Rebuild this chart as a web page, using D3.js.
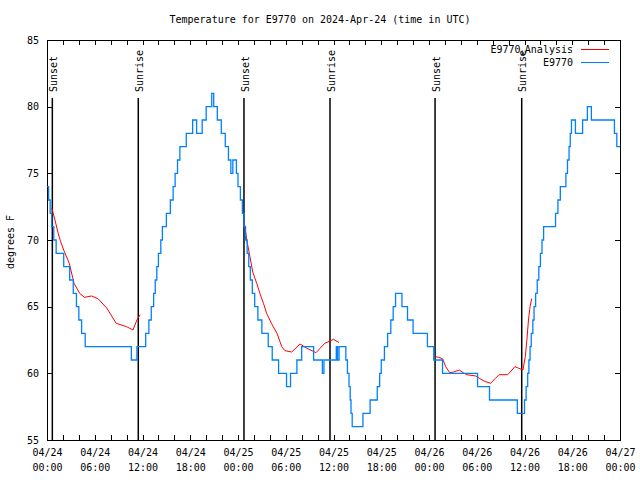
<!DOCTYPE html>
<html><head><meta charset="utf-8">
<script src="https://cdn.jsdelivr.net/npm/d3@7"></script>
<style>
body{margin:0;background:#fff}
text{font-family:"DejaVu Sans Mono",monospace;font-size:10px;fill:#000}
</style>
</head><body>
<svg id="c" width="640" height="480"></svg>
<script>
// ---- data (hours after 2024-04-24 00:00 UTC) ----
const titleText = "Temperature for E9770 on 2024-Apr-24 (time in UTC)";
const yLabel = "degrees F";
const yTicks = [55, 60, 65, 70, 75, 80, 85];

const obsHours = [0,0.2,0.4,0.6,0.85,1.15,2.1,2.85,3.3,3.7,4.0,4.35,4.8,10.6,11.3,12.4,12.8,13.1,13.4,13.6,13.8,14.0,14.3,14.5,15.0,15.5,15.85,16.1,16.4,16.7,17.5,18.3,18.8,19.5,20.0,20.7,20.95,21.4,21.9,22.4,22.8,23.1,23.35,23.8,24.0,24.3,24.55,24.75,24.95,25.15,25.35,25.55,25.8,26.1,26.5,27.0,27.8,28.3,29.1,30.1,30.6,31.4,32.0,33.5,34.6,34.8,36.35,36.5,36.7,37.55,37.75,37.95,38.1,38.2,38.35,39.7,40.6,41.5,41.8,42.0,42.4,42.8,43.2,43.5,43.8,44.6,45.3,46.0,47.8,48.6,49.7,54.1,55.6,59.1,60.0,60.2,60.4,60.55,60.7,60.85,61.05,61.2,61.4,61.6,61.8,62.0,62.2,62.4,63.9,64.2,64.5,65.2,65.4,65.6,65.75,65.9,66.4,67.3,67.9,68.4,71.3,71.6,72];
const obsTemps = [74,73,72,71,70,69,68,67,66,65,64,63,62,61,62,63,64,65,66,67,68,69,70,71,72,73,74,75,76,77,78,79,78,79,80,81,80,79,78,77,76,75,76,75,74,73,72,71,70,69,68,67,66,65,64,63,62,61,60,59,60,61,62,61,60,61,62,61,62,61,60,59,58,57,56,57,58,59,60,61,62,63,64,65,66,65,64,63,62,61,60,59,58,57,58,59,60,61,62,63,64,65,66,67,68,69,70,71,72,73,74,75,76,77,78,79,78,79,80,79,78,77,77];

// analysis series; NaN separates runs
const anaHours = [0.6,1.0,1.4,1.7,2.1,2.8,3.4,4.1,4.7,5.6,6.4,7.5,8.7,10.0,10.8,11.3,11.7, 12,
  24.75,25.1,25.5,25.85,26.35,26.75,27.2,27.6,28.2,28.9,29.5,29.9,30.75,31.8,32.6,33.8,34.9,36.0,36.7, 37,
  48.75,49.2,49.7,50.1,50.6,51.1,51.8,52.3,52.7,53.9,54.4,55.0,55.75,56.3,56.8,57.9,58.8,59.2,59.8,60.1,60.3,60.5,60.7,60.9];
const anaTemps = [72.4,71.5,70.5,69.9,69.25,68.25,66.75,66,65.7,65.8,65.6,64.9,63.75,63.5,63.25,64,64.4, NaN,
  71.5,70,68.75,67.6,66.75,66,65.25,64.5,63.75,63,62,61.7,61.6,62.2,61.9,61.55,62.25,62.55,62.3, NaN,
  61.25,61.2,61.1,60.5,60.05,60.1,60.25,60.05,59.9,59.8,59.6,59.4,59.25,59.6,59.9,59.9,60.5,60.4,60.25,61.25,62.5,64,65,65.6];

const sunHours = [0.67, 11.47, 24.75, 35.56, 48.76, 59.65];
const sunLabels = ["Sunset","Sunrise","Sunset","Sunrise","Sunset","Sunrise"];

const seriesNames = ["E9770", "Analysis", "E9770"]; // legend: "E9770_Analysis", "E9770"
const seriesColors = ["#ff0000", "#0080ff"];

// ---- drawing ----
const t0 = Date.UTC(2024, 3, 24);
const toDate = h => new Date(t0 + h * 3600e3);
const L = 47, R = 620, T = 40, B = 440;
const svg = d3.select("#c");
const x = d3.scaleUtc().domain([toDate(0), toDate(72)]).range([L, R]);
const y = d3.scaleLinear().domain([55, 85]).range([B, T]);

svg.append("text").attr("x", 320).attr("y", 23).attr("text-anchor", "middle").text(titleText);

const tick2h = d3.range(0, 73, 2).map(toDate);
const fmtD = d3.utcFormat("%m/%d"), fmtT = d3.utcFormat("%H:%M");

const gb = svg.append("g").attr("transform", `translate(0,${B})`)
  .call(d3.axisBottom(x).tickValues(tick2h).tickSize(-5).tickFormat(""));
gb.selectAll(".tick").filter(d => d.getUTCHours() % 6 === 0).each(function(d) {
  const t = d3.select(this).append("text").attr("text-anchor", "middle");
  t.append("tspan").attr("x", 0).attr("y", 16).text(fmtD(d));
  t.append("tspan").attr("x", 0).attr("y", 31).text(fmtT(d));
});
svg.append("g").attr("transform", `translate(0,${T})`)
  .call(d3.axisTop(x).tickValues(tick2h).tickSize(-5).tickFormat(""));
svg.append("g").attr("transform", `translate(${L},0)`)
  .call(d3.axisLeft(y).tickValues(yTicks).tickSize(-5).tickPadding(8).tickFormat(d3.format("d")));
svg.append("g").attr("transform", `translate(${R},0)`)
  .call(d3.axisRight(y).tickValues(yTicks).tickSize(-5).tickFormat(""));
svg.selectAll(".domain").remove();
svg.selectAll(".tick line").attr("stroke", "#000").attr("shape-rendering", "crispEdges");
svg.selectAll(".tick text").attr("font-family", "DejaVu Sans Mono").attr("font-size", 10).attr("fill", "#000");

svg.append("rect").attr("x", L).attr("y", T).attr("width", R - L).attr("height", B - T)
  .attr("fill", "none").attr("stroke", "#000").attr("shape-rendering", "crispEdges");

svg.append("text").attr("transform", `translate(14,242) rotate(-90)`).attr("text-anchor", "middle").text(yLabel);

// sunrise / sunset markers
const sg = svg.append("g");
sunHours.forEach((h, i) => {
  const xs = x(toDate(h));
  sg.append("line").attr("x1", xs).attr("x2", xs).attr("y1", 98).attr("y2", B)
    .attr("stroke", "#000").attr("stroke-width", 1.5);
  sg.append("text").attr("transform", `translate(${xs + 4.7},92) rotate(-90)`)
    .attr("text-anchor", "start").text(sunLabels[i]);
});

// series
const anaData = anaHours.map((h, i) => ({d: toDate(h), v: anaTemps[i]}));
const obsData = obsHours.map((h, i) => ({d: toDate(h), v: obsTemps[i]}));

svg.append("path").datum(anaData)
  .attr("d", d3.line().defined(p => !isNaN(p.v)).x(p => x(p.d)).y(p => y(p.v)))
  .attr("fill", "none").attr("stroke", seriesColors[0]).attr("stroke-width", 1);
svg.append("path").datum(obsData)
  .attr("d", d3.line().curve(d3.curveStepAfter).x(p => x(p.d)).y(p => y(p.v)))
  .attr("fill", "none").attr("stroke", seriesColors[1]).attr("stroke-width", 1.3);

// legend
const lg = svg.append("g");
const t1 = lg.append("text").attr("x", 573).attr("y", 53).attr("text-anchor", "end");
t1.append("tspan").text(seriesNames[0]);
t1.append("tspan").attr("dy", 3).attr("font-size", 7).text("a");
t1.append("tspan").attr("dy", -3).text(seriesNames[1]);
lg.append("line").attr("x1", 581).attr("x2", 609).attr("y1", 49.5).attr("y2", 49.5).attr("stroke", seriesColors[0]);
lg.append("text").attr("x", 573).attr("y", 66).attr("text-anchor", "end").text(seriesNames[2]);
lg.append("line").attr("x1", 581).attr("x2", 609).attr("y1", 62.5).attr("y2", 62.5).attr("stroke", seriesColors[1]);
</script>
</body></html>
